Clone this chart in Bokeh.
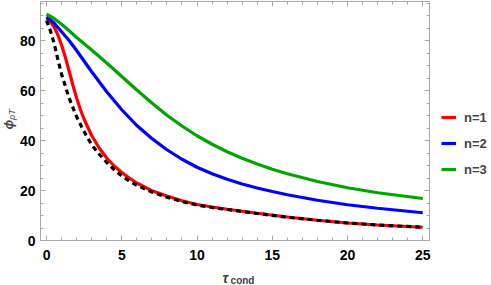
import math
from bokeh.plotting import figure
from bokeh.models import Range1d, LinearAxis, Legend, LegendItem, Label, SingleIntervalTicker
from bokeh.embed import file_html
from bokeh.resources import INLINE

# ---- data ----
x_n1 = [0, 0.25, 0.5, 0.75, 1, 1.25, 1.5, 1.75, 2, 2.25, 2.5, 3, 3.5, 4, 4.5, 5, 5.5, 6, 7, 8, 9, 10, 11, 12, 13, 14, 16, 18, 20, 22, 25]
y_n1 = [89, 87.6, 85.5, 82.3, 78.2, 73.3, 67.8, 62.2, 57, 52.4, 48.5, 42, 37, 33, 29.8, 27.2, 25, 23, 19.9, 17.8, 15.9, 14.4, 13.4, 12.5, 11.7, 10.9, 9.4, 8.1, 7.0, 6.2, 5.3]

x_n2 = [0, 0.5, 1, 1.5, 2, 3, 4, 5, 6, 7, 8, 9, 10, 11, 12, 13, 14, 15, 16, 18, 20, 22, 25]
y_n2 = [89.5, 87, 83.5, 80, 76, 67.5, 59.5, 52.3, 46, 40.8, 36.3, 32.5, 29.3, 26.7, 24.5, 22.6, 21, 19.6, 18.3, 16.1, 14.3, 12.9, 11.1]

x_n3 = [0, 0.5, 1, 1.5, 2, 3, 4, 5, 6, 7, 8, 9, 10, 11, 12, 13, 14, 15, 16, 18, 20, 22, 25]
y_n3 = [90.5, 88.8, 86.5, 83.9, 81.2, 76.2, 71, 65.6, 60.2, 55, 50.1, 45.8, 41.9, 38.5, 35.5, 32.9, 30.6, 28.5, 26.7, 23.6, 21.1, 19.1, 16.8]

x_ref = [0, 0.25, 0.5, 0.75, 1, 1.5, 2, 2.5, 3, 3.5, 4, 4.5, 5, 5.5, 6, 7, 8, 9, 10, 11, 12, 13, 14, 16, 18, 20, 22, 25]
y_ref = [88, 84, 79, 72.5, 66.5, 57, 49.5, 43.5, 38.3, 34.5, 31.2, 28.3, 25.8, 23.8, 22.1, 19.4, 17.3, 15.6, 14.2, 13.2, 12.4, 11.6, 10.8, 9.3, 8.1, 7.0, 6.2, 5.3]

labels = ["n=1", "n=2", "n=3"]
colors = ["#FF0000", "#0000FF", "#00A400"]

FONT = "Liberation Sans"
FRAME = "#A8A8A8"

# visible frame (data units)
X0, X1 = -0.4, 25.45
Y0, Y1 = 0, 95.6

p = figure(width=491, height=285, output_backend="svg", toolbar_location=None,
           x_range=Range1d(-3.058, 29.567), y_range=Range1d(-18.0, 96.0),
           x_axis_location=None, y_axis_location=None,
           min_border_left=0, min_border_right=0, min_border_top=0, min_border_bottom=0)
p.xgrid.visible = False
p.ygrid.visible = False
p.outline_line_color = None
p.background_fill_color = "white"
p.border_fill_color = "white"


def make_axis(interval, minor, loc, bounds, show_labels, standoff):
    ax = LinearAxis(ticker=SingleIntervalTicker(interval=interval, num_minor_ticks=minor),
                    fixed_location=loc, bounds=bounds)
    ax.axis_line_color = FRAME
    ax.axis_line_width = 1
    ax.major_tick_line_color = FRAME
    ax.minor_tick_line_color = FRAME
    ax.major_tick_in = 5
    ax.major_tick_out = 0
    ax.minor_tick_in = 3
    ax.minor_tick_out = 0
    ax.major_label_text_font = FONT
    ax.major_label_text_font_style = "bold"
    ax.major_label_text_font_size = "14px"
    ax.major_label_text_color = "black" if show_labels else None
    ax.major_label_standoff = standoff
    ax.axis_label = None
    return ax


p.add_layout(make_axis(5, 5, Y0, (X0, X1), True, 9), "below")
p.add_layout(make_axis(20, 4, X0, (Y0, Y1), True, 5), "left")
p.add_layout(make_axis(5, 5, Y1, (X0, X1), False, 0), "above")
p.add_layout(make_axis(20, 4, X1, (Y0, Y1), False, 0), "right")

r1 = p.line(x_n1, y_n1, line_color=colors[0], line_width=3.2)
r2 = p.line(x_n2, y_n2, line_color=colors[1], line_width=3.2)
r3 = p.line(x_n3, y_n3, line_color=colors[2], line_width=3.2)
p.line(x_ref, y_ref, line_color="black", line_width=3.2, line_dash="5 4")

legend = Legend(items=[LegendItem(label=labels[0], renderers=[r1]),
                       LegendItem(label=labels[1], renderers=[r2]),
                       LegendItem(label=labels[2], renderers=[r3])],
                location=(441, 106), orientation="vertical",
                glyph_width=15, glyph_height=20, label_height=20, spacing=6,
                label_standoff=8, padding=0, margin=0,
                border_line_color=None, background_fill_color=None,
                label_text_font=FONT, label_text_font_style="bold",
                label_text_font_size="13px")
p.add_layout(legend, "center")

# axis titles
p.add_layout(Label(x=-2.5, y=44.4, text="ϕ", angle=math.pi / 2, text_font=FONT,
                   text_font_style="bold italic", text_font_size="13px",
                   text_align="left", text_baseline="alphabetic"))
p.add_layout(Label(x=-2.27, y=48.2, text="ρT", angle=math.pi / 2, text_font=FONT,
                   text_font_style="italic", text_font_size="9px",
                   text_align="left", text_baseline="alphabetic"))
p.add_layout(Label(x=11.69, y=-14.8, text="τ", text_font=FONT,
                   text_font_style="bold italic", text_font_size="14px",
                   text_align="left", text_baseline="alphabetic"))
p.add_layout(Label(x=12.23, y=-16.0, text="cond", text_font=FONT,
                   text_font_style="bold", text_font_size="10px",
                   text_align="left", text_baseline="alphabetic"))

open("out.html", "w").write(file_html(p, INLINE))
